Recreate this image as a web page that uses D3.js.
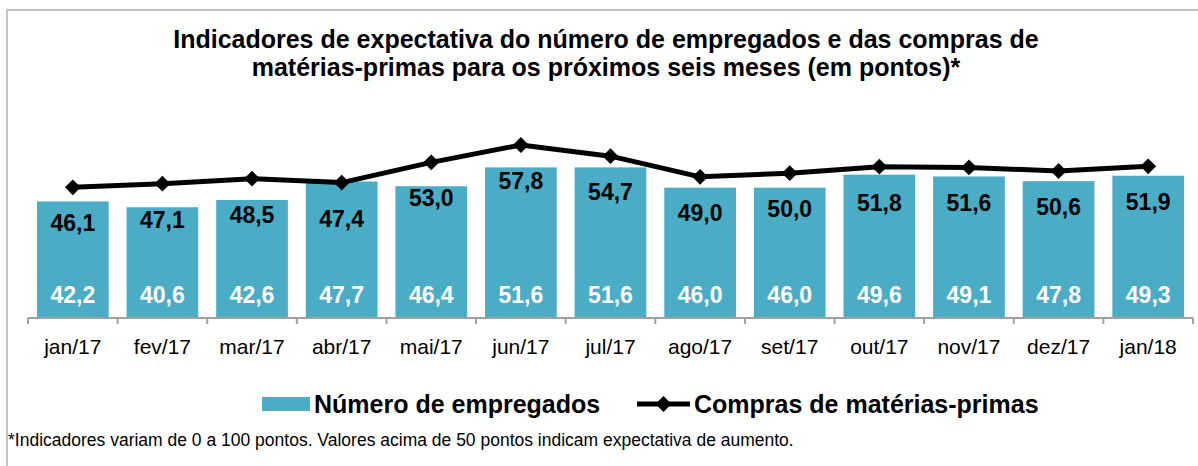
<!DOCTYPE html>
<html>
<head>
<meta charset="utf-8">
<script src="https://cdn.jsdelivr.net/npm/d3@7"></script>
<style>
  html, body { margin: 0; padding: 0; background: #fff; }
  svg { display: block; font-family: "Liberation Sans", Arial, sans-serif; }
</style>
</head>
<body>
<svg id="chart" width="1198" height="466"></svg>
<script>
const categories = ["jan/17","fev/17","mar/17","abr/17","mai/17","jun/17","jul/17","ago/17","set/17","out/17","nov/17","dez/17","jan/18"];
const empregados = [42.2, 40.6, 42.6, 47.7, 46.4, 51.6, 51.6, 46.0, 46.0, 49.6, 49.1, 47.8, 49.3];
const compras = [46.1, 47.1, 48.5, 47.4, 53.0, 57.8, 54.7, 49.0, 50.0, 51.8, 51.6, 50.6, 51.9];
const titleLines = ["Indicadores de expectativa do número de empregados e das compras de", "matérias-primas para os próximos seis meses (em pontos)*"];
const seriesNames = ["Número de empregados", "Compras de matérias-primas"];
const footnote = "*Indicadores variam de 0 a 100 pontos. Valores acima de 50 pontos indicam expectativa de aumento.";

const svg = d3.select("#chart");
const fmt = v => d3.format(".1f")(v).replace(".", ",");

// frame
svg.append("path").attr("d", "M7,480 L7,10 L1210,10").attr("fill", "none").attr("stroke", "#c3c3c3").attr("stroke-width", 2);

// title
svg.append("g").selectAll("text").data(titleLines).join("text")
  .attr("x", 606).attr("y", (d, i) => 48 + i * 28)
  .attr("text-anchor", "middle").attr("font-weight", "bold").attr("font-size", 25)
  .attr("fill", "#000").text(d => d);

const x = d3.scaleBand().domain(categories).range([28, 1193]).paddingInner(0.2).paddingOuter(0.1);
const y = d3.scaleLinear().domain([10, 60]).range([318, 137]);

// bars
svg.append("g").selectAll("rect").data(empregados).join("rect")
  .attr("x", (d, i) => x(categories[i])).attr("width", x.bandwidth())
  .attr("y", d => y(d)).attr("height", d => y(10) - y(d))
  .attr("fill", "#4BACC6");

// axis
const step = x.step();
const axisG = svg.append("g");
axisG.append("line").attr("x1", 28).attr("x2", 1193).attr("y1", y(10)).attr("y2", y(10))
  .attr("stroke", "#a0a0a0").attr("stroke-width", 2);
axisG.selectAll("line.tick").data(d3.range(categories.length + 1)).join("line").attr("class", "tick")
  .attr("x1", i => 28 + i * step).attr("x2", i => 28 + i * step)
  .attr("y1", y(10)).attr("y2", y(10) + 6).attr("stroke", "#a0a0a0").attr("stroke-width", 2);
axisG.selectAll("text").data(categories).join("text")
  .attr("x", d => x(d) + x.bandwidth() / 2).attr("y", 354)
  .attr("text-anchor", "middle").attr("font-size", 21).attr("fill", "#000").text(d => d);

// line
const line = d3.line().x((d, i) => x(categories[i]) + x.bandwidth() / 2).y(d => y(d));
svg.append("path").datum(compras).attr("d", line).attr("fill", "none")
  .attr("stroke", "#000").attr("stroke-width", 5).attr("stroke-linejoin", "round");
const diamond = d3.symbol().type(d3.symbolDiamond2).size(160);
svg.append("g").selectAll("path").data(compras).join("path")
  .attr("transform", (d, i) => `translate(${x(categories[i]) + x.bandwidth() / 2},${y(d)})`)
  .attr("d", diamond).attr("fill", "#000");

// labels
svg.append("g").selectAll("text").data(compras).join("text")
  .attr("x", (d, i) => x(categories[i]) + x.bandwidth() / 2).attr("y", d => y(d) + 44)
  .attr("text-anchor", "middle").attr("font-weight", "bold").attr("font-size", 23)
  .attr("fill", "#000").text(d => fmt(d));
svg.append("g").selectAll("text").data(empregados).join("text")
  .attr("x", (d, i) => x(categories[i]) + x.bandwidth() / 2).attr("y", 303)
  .attr("text-anchor", "middle").attr("font-weight", "bold").attr("font-size", 23)
  .attr("fill", "#fff").text(d => fmt(d));

// legend
const lg = svg.append("g");
lg.append("rect").attr("x", 262).attr("y", 397).attr("width", 48).attr("height", 14).attr("fill", "#4BACC6");
lg.append("text").attr("x", 314).attr("y", 413).attr("font-weight", "bold").attr("font-size", 25).text(seriesNames[0]);
lg.append("line").attr("x1", 637).attr("x2", 690).attr("y1", 404).attr("y2", 404).attr("stroke", "#000").attr("stroke-width", 5);
lg.append("path").attr("transform", "translate(663.5,404)").attr("d", diamond).attr("fill", "#000");
lg.append("text").attr("x", 694).attr("y", 413).attr("font-weight", "bold").attr("font-size", 25).text(seriesNames[1]);

// footnote
svg.append("text").attr("x", 8).attr("y", 446).attr("font-size", 17.5).attr("fill", "#000").text(footnote);
</script>
</body>
</html>
